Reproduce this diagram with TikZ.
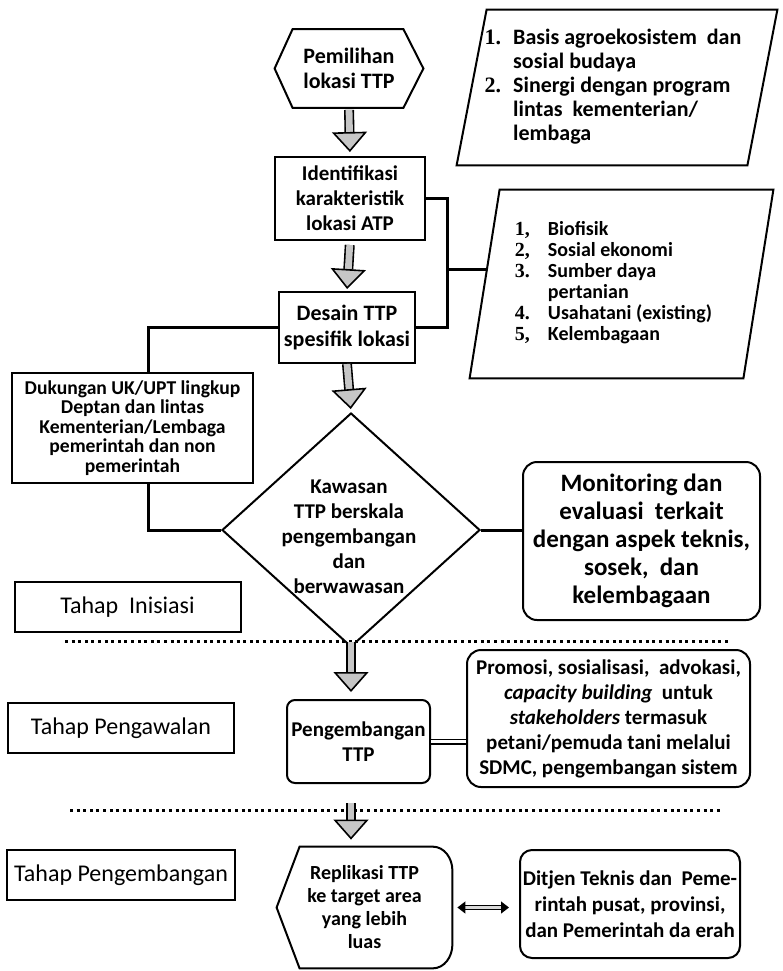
\documentclass[tikz,border=0pt]{standalone}
\usepackage{fontspec}
\setmainfont{Carlito}
\newfontfamily\numfont{Liberation Serif}
\usetikzlibrary{arrows.meta,shapes.geometric}
\tikzset{
  box/.style={draw, line width=1pt, fill=white, align=center, inner sep=1pt, font=\bfseries\fontsize{10.5}{12.5}\selectfont},
  rbox/.style={box, rounded corners=7pt},
  stage/.style={draw, line width=1pt, fill=white, minimum width=113pt, minimum height=25pt, font=\fontsize{12}{14}\selectfont},
  plain/.style={align=center, inner sep=0pt, font=\bfseries\fontsize{10.5}{12.5}\selectfont},
  outline/.style={draw, line width=1pt},
  link/.style={line width=1.5pt},
  pipe/.style={double, double distance=1.6pt, line width=0.7pt},
  blockflow/.style={double=gray!45, double distance=3.4pt, line width=0.8pt, -{Triangle[length=10pt, width=17.5pt, fill=gray!45, line width=0.8pt]}},
  twoway/.style={double=gray!30, double distance=1.2pt, line width=0.6pt, {Triangle[length=4pt, width=6pt, line width=0.6pt]}-{Triangle[length=4pt, width=6pt, line width=0.6pt]}},
  phase/.style={line width=1.5pt, dash pattern=on 1.5pt off 1.8pt}
}
\newcommand{\num}[1]{{\numfont\bfseries #1}}

\begin{document}
\begin{tikzpicture}[x=0.5pt, y=-0.5pt]
\useasboundingbox (0,0) rectangle (783,971);

% inisiasi
\node[plain, minimum width=74pt, minimum height=39pt, font=\bfseries\fontsize{11}{12.5}\selectfont] (pemilihan) at (349,68.5) {Pemilihan\\lokasi TTP};
\draw[outline] (pemilihan.west) -- ([xshift=9pt]pemilihan.north west) -- ([xshift=-10pt]pemilihan.north east) -- (pemilihan.east) -- ([xshift=-10pt]pemilihan.south east) -- ([xshift=9pt]pemilihan.south west) -- cycle;

\node[plain, align=left, minimum width=160pt, minimum height=77.5pt, font=\bfseries\fontsize{11}{12}\selectfont] (basis) at (617,87.5) {%
\raisebox{-5pt}{\begin{tabular}{@{}l@{\hspace{6pt}}l@{}}
\num{1.} & Basis agroekosistem\ \ dan\\
 & sosial budaya\\
\num{2.} & Sinergi dengan program\\
 & lintas\ \ kementerian/\\
 & lembaga
\end{tabular}}\hspace*{4pt}};
\draw[outline] ([xshift=15pt]basis.north west) -- (basis.north east) -- ([xshift=-15pt]basis.south east) -- (basis.south west) -- cycle;

\node[box, minimum width=75pt, minimum height=41.5pt] (identifikasi) at (350,198.5) {Identifikasi\\karakteristik\\lokasi ATP};

\node[plain, minimum width=151.5pt, minimum height=94pt, font=\bfseries\fontsize{10}{10.5}\selectfont] (ciri) at (621.5,284) {%
\begin{tabular}{@{}l@{\hspace{9pt}}l@{}}
\num{1,} & Biofisik\\
\num{2,} & Sosial ekonomi\\
\num{3.} & Sumber daya\\
 & pertanian\\
\num{4.} & Usahatani (existing)\\
\num{5,} & Kelembagaan
\end{tabular}\hspace*{8pt}};
\draw[outline] ([xshift=15pt]ciri.north west) -- (ciri.north east) -- ([xshift=-15pt]ciri.south east) -- (ciri.south west) -- cycle;
\coordinate (ciriL) at (487,269);
\coordinate (jn) at (447,269);

\node[box, minimum width=68pt, minimum height=35.5pt, font=\bfseries\fontsize{11}{13}\selectfont] (desain) at (347,327.5) {Desain TTP\\spesifik lokasi};

\node[box, minimum width=120.5pt, minimum height=55pt, font=\bfseries\fontsize{9.8}{9.7}\selectfont] (dukungan) at (132.5,428) {Dukungan UK/UPT lingkup\\Deptan dan lintas\\Kementerian/Lembaga\\pemerintah dan non\\pemerintah};

\node[diamond, draw, line width=1pt, fill=white, minimum width=129pt, minimum height=117pt, inner sep=0pt] (kawasan) at (351,530) {};
\node[plain] (kawasantext) at (349,537) {Kawasan\\TTP berskala\\pengembangan\\dan\\berwawasan};

\node[rbox, minimum width=118.5pt, minimum height=79pt, font=\bfseries\fontsize{12.5}{14}\selectfont] (monitoring) at (641.5,541) {Monitoring dan\\evaluasi\ \ terkait\\dengan aspek teknis,\\sosek,\ \ dan\\kelembagaan};

\node[stage] (inisiasi) at (127.5,607) {Tahap\ \ Inisiasi};

% pengawalan
\coordinate (sep1a) at (65,641);
\coordinate (sep1b) at (728,641);
\draw[phase] (sep1a) -- (sep1b);

\node[rbox, rounded corners=4pt, minimum width=71.5pt, minimum height=41.5pt] (pengembangan) at (358.5,741.5) {Pengembangan\\TTP};
\node[rbox, minimum width=141.5pt, minimum height=68.5pt] (promosi) at (608.5,718.5) {Promosi, sosialisasi,\ \ advokasi,\\\textit{capacity building}\ \ untuk\\\textit{stakeholders} termasuk\\petani/pemuda tani melalui\\SDMC, pengembangan sistem};
\node[stage] (pengawalan) at (121,728) {Tahap Pengawalan};

% pengembangan
\coordinate (sep2a) at (70,810);
\coordinate (sep2b) at (722,810);
\draw[phase] (sep2a) -- (sep2b);

\node[plain, minimum width=87.5pt, minimum height=60.5pt, font=\bfseries\fontsize{10}{11.5}\selectfont] (replikasi) at (364.5,907.5) {Replikasi TTP\\ke target area\\yang lebih\\luas};
\draw[outline] (replikasi.west) -- ([xshift=11.5pt]replikasi.north west) -- ([xshift=-10pt]replikasi.north east) to[out=0,in=90] ([yshift=-12pt]replikasi.north east) -- ([yshift=12pt]replikasi.south east) to[out=-90,in=0] ([xshift=-10pt]replikasi.south east) -- ([xshift=11.5pt]replikasi.south west) -- cycle;

\node[rbox, rounded corners=6pt, minimum width=110pt, minimum height=54pt, font=\bfseries\fontsize{10.5}{13}\selectfont] (ditjen) at (630,904) {Ditjen Teknis dan\ \ Peme-\\rintah pusat, provinsi,\\dan Pemerintah da erah};
\node[stage] (tahapkembang) at (121,875) {Tahap Pengembangan};

% connectors
\draw[blockflow, shorten <=1pt, shorten >=2pt] (pemilihan.south) -- (identifikasi.north);
\draw[blockflow, shorten <=2pt, shorten >=1pt] (identifikasi.south) -- (desain.north);
\draw[blockflow, shorten >=1.5pt] (desain.south) -- (kawasan.north);
\draw[blockflow, shorten <=-3pt, shorten >=3.5pt] (kawasan.south) -- (pengembangan.north -| kawasan.south);
\draw[blockflow, shorten <=9.5pt, shorten >=3.5pt] (pengembangan.south -| kawasan.south) -- (replikasi.north -| kawasan.south);

\draw[link] (identifikasi.east) -| (jn) |- (desain.east);
\draw[link] (jn) -- (ciriL);
\draw[link] (desain.west) -| ([xshift=7.75pt]dukungan.north);
\draw[link] ([xshift=7.75pt]dukungan.south) |- (kawasan.west);
\draw[link] (kawasan.east) -- (kawasan.east -| monitoring.west);
\draw[pipe] (pengembangan.east) -- (pengembangan.east -| promosi.west);
\draw[twoway] ([xshift=2.5pt]replikasi.east) -- ([xshift=-5pt]replikasi.east -| ditjen.west);
\end{tikzpicture}
\end{document}
